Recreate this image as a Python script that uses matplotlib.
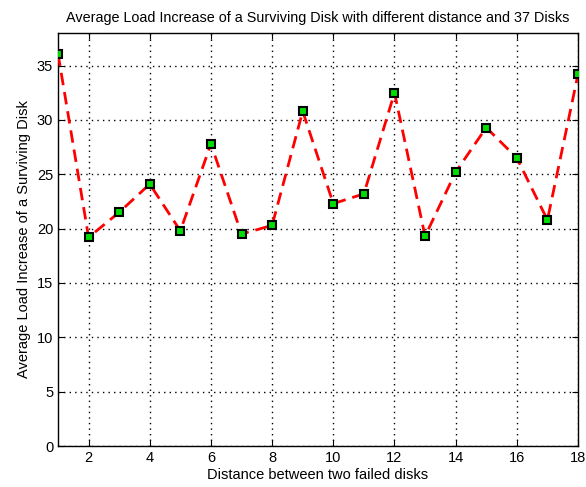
import matplotlib
matplotlib.use("Agg")
import matplotlib.pyplot as plt

plt.rcParams['font.family'] = ['Liberation Sans', 'DejaVu Sans']

# Data
distance = list(range(1, 19))
load_increase = [36.1, 19.2, 21.5, 24.1, 19.8, 27.8, 19.5, 20.3, 30.8,
                 22.3, 23.2, 32.5, 19.3, 25.2, 29.3, 26.5, 20.8, 34.2]
x_ticks = [2, 4, 6, 8, 10, 12, 14, 16, 18]
y_ticks = [0, 5, 10, 15, 20, 25, 30, 35]

fig = plt.figure(figsize=(5.86, 4.87), dpi=100)
ax = fig.add_axes([58 / 586, 1 - 446 / 487, 520 / 586, 413 / 487])

ax.plot(distance, load_increase, color='red', linestyle='--', linewidth=2,
        dashes=(4.5, 2.5), marker='s', markersize=6, markerfacecolor='#00dd00',
        markeredgecolor='black', markeredgewidth=1.5, zorder=3)

ax.set_xlim(1, 18)
ax.set_ylim(0, 38)
ax.set_xticks(x_ticks)
ax.set_yticks(y_ticks)
ax.grid(True, color='black', linestyle=(0, (1, 3)), linewidth=1)
ax.tick_params(direction='in', top=True, right=True, labelsize=10.5, length=4)
for s in ax.spines.values():
    s.set_linewidth(1)

ax.set_xlabel('Distance between two failed disks', fontsize=10.5, labelpad=2)
ax.set_ylabel('Average Load Increase of a Surviving Disk', fontsize=10.5)
ax.set_title('Average Load Increase of a Surviving Disk with different distance and 37 Disks',
             fontsize=10.4, pad=8)

fig.savefig('out.png', dpi=100)
